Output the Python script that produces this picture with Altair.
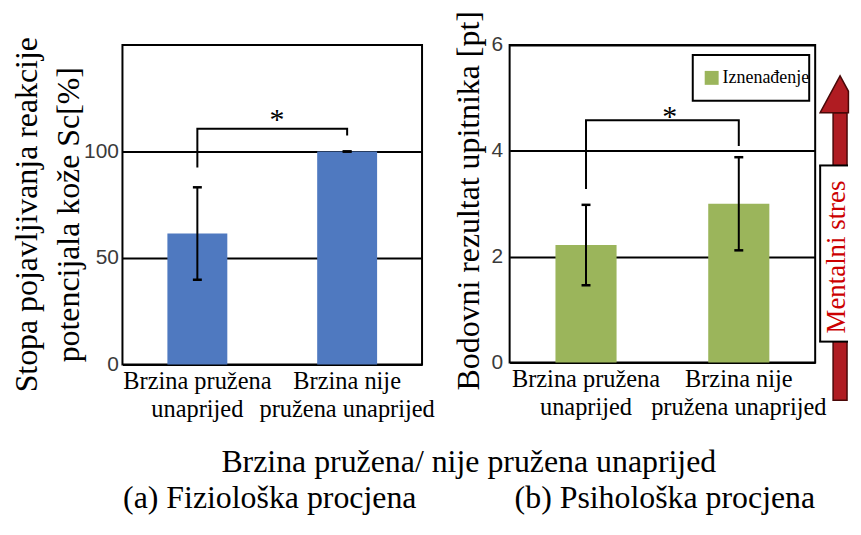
import altair as alt
import pandas as pd

# ---------------- data ----------------
categories = ["Brzina pružena unaprijed", "Brzina nije pružena unaprijed"]
label_lines = [["Brzina pružena", "unaprijed"], ["Brzina nije", "pružena unaprijed"]]

# (a) physiological evaluation
sc_rate = [61.5, 100.0]
sc_err = [21.7, 0.0]
sc_bracket = [92.5, 110.7, 110.7, 107.5]
y1_ticks = [0, 50, 100]
y1_title = ["Stopa pojavljivanja reakcije", "potencijala kože Sc[%]"]

# (b) psychological evaluation
score = [2.22, 3.0]
score_err = [0.76, 0.88]
score_bracket = [3.28, 4.58, 4.58, 4.09]
y2_ticks = [0, 2, 4, 6]
y2_title = "Bodovni rezultat upitnika [pt]"
legend_label = "Iznenađenje"

star = ["*"]
common_title = ["Brzina pružena/ nije pružena unaprijed"]
panel_a = ["(a) Fiziološka procjena"]
panel_b = ["(b) Psihološka procjena"]
stress_label = ["Mentalni stres"]

BLUE = "#4f79c0"
GREEN = "#9bb55b"
SERIF = "Liberation Serif, Times New Roman, serif"
SANS = "Liberation Sans, Arial, sans-serif"

label_expr = (
    f"datum.value == '{categories[0]}' ? {label_lines[0]!r} : {label_lines[1]!r}"
).replace('"', "'")

X_AXIS = alt.Axis(
    title=None, labelAngle=0, labelExpr=label_expr, labelFont=SERIF,
    labelFontSize=24.5, labelColor="black", labelLineHeight=28,
    labelPadding=5, ticks=False, domain=False, labelOverlap=False,
    labelLimit=400, grid=False,
)


def x_enc():
    return alt.X("cat:N", sort=categories,
                 scale=alt.Scale(paddingInner=0.6, paddingOuter=0.3), axis=X_AXIS)


def panel(values, errs, bracket, domain, ticks, title, title_x, title_y, lab_pad,
          color_enc, star_dx, star_dy):
    df = pd.DataFrame({
        "cat": categories,
        "val": values,
        "lo": [v - e for v, e in zip(values, errs)],
        "hi": [v + e for v, e in zip(values, errs)],
        "series": [legend_label] * len(categories),
    })
    caps = pd.DataFrame({
        "cat": categories * 2,
        "y": list(df["lo"]) + list(df["hi"]),
    })
    br = pd.DataFrame({
        "cat": [categories[0], categories[0], categories[1], categories[1]],
        "y": bracket,
        "o": [0, 1, 2, 3],
    })
    yaxis = alt.Axis(
        values=ticks, grid=True, gridColor="black", gridWidth=2, gridOpacity=1,
        ticks=False, domain=False, labelFont=SANS, labelFontSize=21,
        labelColor="#3a3a3a", labelPadding=lab_pad, title=title,
        titleFont=SERIF, titleFontSize=32, titleFontWeight="normal",
        titleColor="black", titleAngle=270, titleAlign="center",
        titleBaseline="alphabetic", titleX=title_x, titleY=title_y,
        titleLineHeight=42,
    )
    yscale = alt.Scale(domain=domain, nice=False, zero=True)

    def y_enc(field):
        return alt.Y(field, scale=yscale, axis=yaxis)

    bars = alt.Chart(df).mark_bar().encode(
        x=x_enc(), y=y_enc("val:Q"), color=color_enc,
    )
    err = alt.Chart(df).mark_rule(color="black", strokeWidth=2).encode(
        x=x_enc(), y=y_enc("lo:Q"), y2="hi:Q"
    )
    cap = alt.Chart(caps).mark_tick(color="black", thickness=2.5, size=9,
                                    orient="horizontal", opacity=1).encode(
        x=x_enc(), y=y_enc("y:Q")
    )
    brk = alt.Chart(br).mark_line(color="black", strokeWidth=2).encode(
        x=x_enc(), y=y_enc("y:Q"), order="o:Q"
    )
    st = alt.Chart(pd.DataFrame({"cat": [categories[0]], "y": [bracket[1]],
                                 "t": star})).mark_text(
        font=SERIF, fontSize=30, color="black", baseline="alphabetic",
        align="center", dx=star_dx, dy=star_dy,
    ).encode(x=x_enc(), y=y_enc("y:Q"), text="t:N")
    return [bars, err, cap, brk, st]


W1, H1 = 301, 321
W2, H2 = 307, 319
SPACING = 88

layers1 = panel(sc_rate, sc_err, sc_bracket, [0, 150], y1_ticks, y1_title,
                -86, 170, 4, alt.value(BLUE), 80, 0)

txt_common = alt.Chart(pd.DataFrame({"t": common_title})).mark_text(
    font=SERIF, fontSize=32, color="black", align="center", baseline="alphabetic"
).encode(text="t:N", x=alt.value(348), y=alt.value(429))
txt_a = alt.Chart(pd.DataFrame({"t": panel_a})).mark_text(
    font=SERIF, fontSize=32, color="black", align="center", baseline="alphabetic"
).encode(text="t:N", x=alt.value(148), y=alt.value(465))

p1 = alt.layer(*layers1, txt_common, txt_a).properties(width=W1, height=H1)

color2 = alt.Color(
    "series:N",
    scale=alt.Scale(domain=[legend_label], range=[GREEN]),
    legend=alt.Legend(
        orient="none", legendX=583, legendY=24, title=None,
        symbolType="square", symbolSize=196, symbolStrokeWidth=0,
        symbolOpacity=1, labelFont=SERIF, labelFontSize=18,
        labelColor="black", padding=0, labelOffset=2,
    ),
)
layers2 = panel(score, score_err, score_bracket, [0, 6], y2_ticks, y2_title,
                -31, 156, 7, color2, 84, 6)

one = pd.DataFrame({"k": [0]})
legend_box = alt.Chart(one).mark_rect(filled=False, stroke="black", strokeWidth=2).encode(
    x=alt.value(184), x2=alt.value(301), y=alt.value(10), y2=alt.value(56)
)
shaft = alt.Chart(one).mark_rect(fill="#b01c22", stroke="#4a0808", strokeWidth=1.5).encode(
    x=alt.value(325), x2=alt.value(339), y=alt.value(68), y2=alt.value(357)
)
head = alt.Chart(one).mark_point(
    shape="M -1 0.925 L 0 -0.925 L 0.42 -0.15 L 0.42 0.925 Z", size=1600,
    filled=True, fill="#b01c22", stroke="#4a0808", strokeWidth=1.5, opacity=1,
).encode(x=alt.value(332), y=alt.value(49.5))
box = alt.Chart(one).mark_rect(fill="white").encode(
    x=alt.value(312), x2=alt.value(340), y=alt.value(121), y2=alt.value(298)
)
box_l = alt.Chart(one).mark_rule(color="black", strokeWidth=2).encode(
    x=alt.value(312), y=alt.value(121), y2=alt.value(298)
)
box_t = alt.Chart(one).mark_rule(color="black", strokeWidth=2).encode(
    x=alt.value(311), x2=alt.value(340), y=alt.value(121)
)
box_b = alt.Chart(one).mark_rule(color="black", strokeWidth=2).encode(
    x=alt.value(311), x2=alt.value(340), y=alt.value(298)
)
stress = alt.Chart(pd.DataFrame({"t": stress_label})).mark_text(
    font=SERIF, fontSize=27, color="#cc0000", angle=270, align="center",
    baseline="alphabetic",
).encode(text="t:N", x=alt.value(337), y=alt.value(213))
txt_b = alt.Chart(pd.DataFrame({"t": panel_b})).mark_text(
    font=SERIF, fontSize=32, color="black", align="center", baseline="alphabetic"
).encode(text="t:N", x=alt.value(156), y=alt.value(465))

p2 = alt.layer(*layers2, legend_box, shaft, head, box, box_l, box_t, box_b,
               stress, txt_b).properties(width=W2, height=H2)

chart = alt.hconcat(p1, p2, spacing=SPACING, bounds="flush").properties(
    padding={"left": 1, "top": 0, "right": 0, "bottom": 0},
    background="white",
).configure_view(stroke="black", strokeWidth=2)

chart.save("out.html", embed_options={"renderer": "svg", "actions": False})
